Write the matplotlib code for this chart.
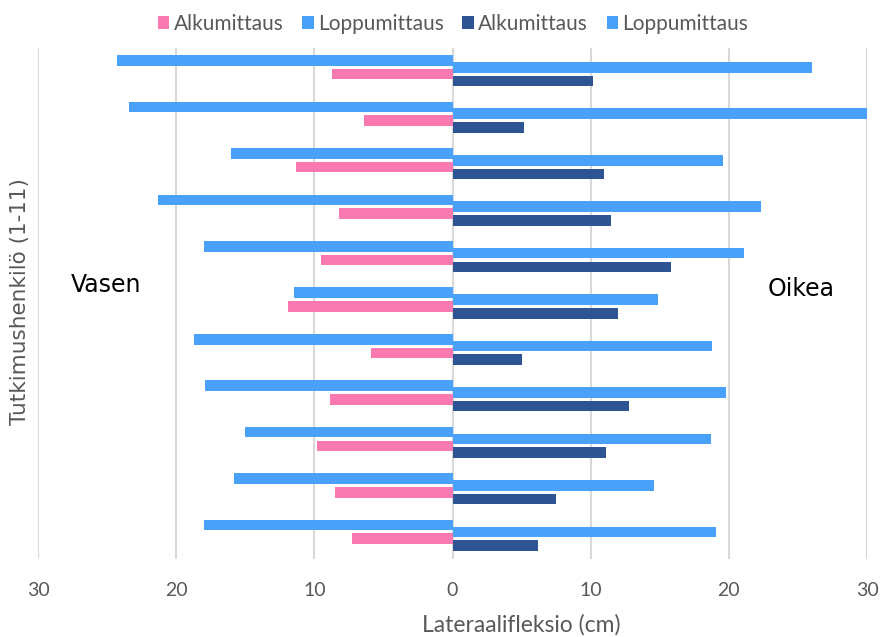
import numpy as np
import matplotlib.pyplot as plt
from matplotlib.ticker import FuncFormatter

# subjects 1-11, lateral flexion in cm (left side drawn as negative)
subjects = np.arange(1, 12)
left_alku = [8.7, 6.4, 11.3, 8.2, 9.5, 11.9, 5.9, 8.9, 9.8, 8.5, 7.3]
left_loppu = [24.3, 23.4, 16.0, 21.3, 18.0, 11.5, 18.7, 17.9, 15.0, 15.8, 18.0]
right_alku = [10.2, 5.2, 11.0, 11.5, 15.8, 12.0, 5.0, 12.8, 11.1, 7.5, 6.2]
right_loppu = [26.0, 30.0, 19.6, 22.3, 21.1, 14.9, 18.8, 19.8, 18.7, 14.6, 19.1]
xticks = [-30, -20, -10, 0, 10, 20, 30]

pink = "#F979B0"
blue = "#49A1FA"
dark = "#2E5494"
grey = "#595959"

plt.rcParams['font.family'] = ['Lato', 'DejaVu Sans']

fig = plt.figure(figsize=(8.82, 6.37), dpi=100)
ax = fig.add_axes([0.0431, 0.1232, 0.9399, 0.8022])

h = 0.228
step = 0.147
b_ll = ax.barh(subjects - 1.5 * step, [-v for v in left_loppu], height=h, color=blue, label="Loppumittaus", zorder=3)
b_rl = ax.barh(subjects - 0.5 * step, right_loppu, height=h, color=blue, label="Loppumittaus", zorder=3)
b_la = ax.barh(subjects + 0.5 * step, [-v for v in left_alku], height=h, color=pink, label="Alkumittaus", zorder=3)
b_ra = ax.barh(subjects + 1.5 * step, right_alku, height=h, color=dark, label="Alkumittaus", zorder=3)

ax.set_xlim(-30, 30)
ax.set_ylim(11.5, 0.5)
ax.set_xticks(xticks)
ax.xaxis.set_major_formatter(FuncFormatter(lambda v, p: f"{abs(int(v))}"))
ax.set_yticks([])
ax.tick_params(axis='x', length=0, pad=17, labelsize=14, labelcolor=grey)
ax.grid(axis='x', color="#D9D9D9", linewidth=1.5, zorder=0)
for s in ax.spines.values():
    s.set_visible(False)

ax.text(-27.6, 5.61, "Vasen", fontsize=17, family="DejaVu Sans", va="center", ha="left")
ax.text(22.8, 5.70, "Oikea", fontsize=17, family="DejaVu Sans", va="center", ha="left")

fig.text(521 / 882, 1 - 625 / 637, "Lateraalifleksio (cm)", ha="center", va="center",
         fontsize=16.5, color=grey)
fig.text(20 / 882, 1 - 302 / 637, "Tutkimushenkilö (1-11)", ha="center", va="center",
         rotation=90, fontsize=15.5, color=grey, family="DejaVu Sans")

fig.legend([b_la, b_ll, b_ra, b_rl], ["Alkumittaus", "Loppumittaus", "Alkumittaus", "Loppumittaus"],
           loc="center", bbox_to_anchor=(453 / 882, 1 - 24 / 637), ncol=4, frameon=False,
           fontsize=15, labelcolor=grey, handlelength=0.55, handleheight=0.55,
           handletextpad=0.2, columnspacing=0.9)

fig.savefig("out.png", dpi=100)
